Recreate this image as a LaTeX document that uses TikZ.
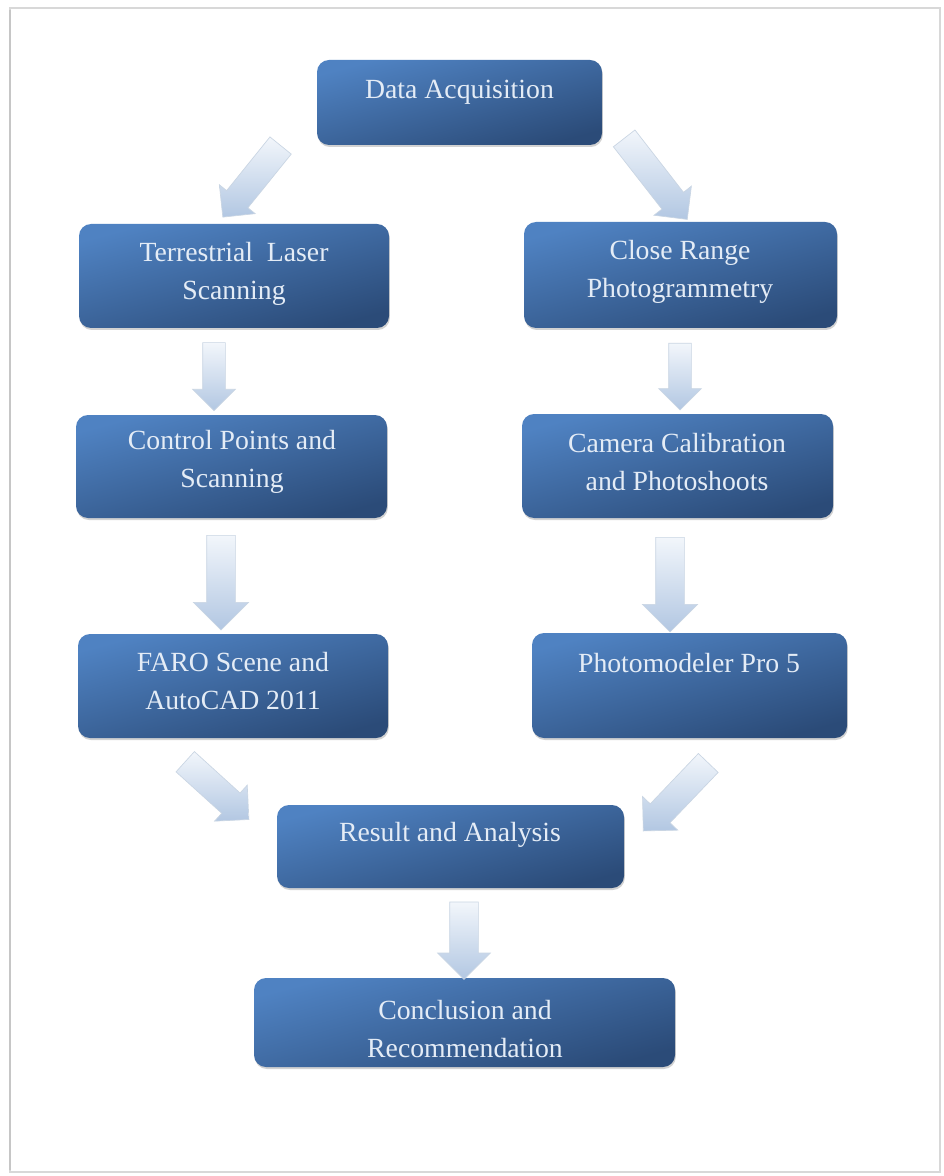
\documentclass[tikz,border=0pt]{standalone}
\usepackage{fontspec}
\setmainfont{Liberation Serif}
\usetikzlibrary{shapes.arrows,shadows}
\definecolor{boxtop}{HTML}{4F82C2}
\definecolor{boxbot}{HTML}{2B4B78}
\definecolor{boxtext}{HTML}{E4ECF6}
\definecolor{arrlight}{HTML}{F2F6FB}
\definecolor{arrdark}{HTML}{B2C7E2}
\definecolor{arredge}{HTML}{C9D5E3}
\definecolor{framecol}{HTML}{D8D8D8}
\tikzset{
  box/.style={rectangle, rounded corners=9pt, draw=none,
    top color=boxtop, bottom color=boxbot, shading angle=15,
    drop shadow={opacity=0.35, shadow xshift=0.6pt, shadow yshift=-1.5pt},
    inner sep=0pt},
  txt/.style={text=boxtext, align=center, font=\fontsize{20.8}{28.5}\selectfont, inner sep=0pt},
  barrow/.style={single arrow, draw=arredge, line width=0.5pt,
    left color=arrlight, right color=arrdark, shading angle=0,
    single arrow head indent=0pt, inner xsep=0pt, minimum width=0pt},
}
\begin{document}
\begin{tikzpicture}[x=0.75pt,y=-0.75pt]
\useasboundingbox (0,0) rectangle (944,1176);
\fill[white] (0,0) rectangle (944,1176);
\draw[framecol, line width=1.2pt] (10,8) rectangle (940,1172);
\draw[framecol!80!gray, line width=1.5pt] (10,10) -- (10,1170);

% boxes
\node[box, minimum width=213.75pt, minimum height=63.75pt] (da) at (459.5,102.5) {};
\node[box, minimum width=232.5pt, minimum height=78pt] (tls) at (234,276) {};
\node[box, minimum width=234.75pt, minimum height=79.5pt] (crp) at (680.5,275) {};
\node[box, minimum width=233.25pt, minimum height=77.25pt] (cps) at (231.5,466.5) {};
\node[box, minimum width=233.25pt, minimum height=78pt] (cam) at (677.5,466) {};
\node[box, minimum width=232.5pt, minimum height=78pt] (faro) at (233,686) {};
\node[box, minimum width=236.25pt, minimum height=78.75pt] (pm) at (689.5,685.5) {};
\node[box, minimum width=260.25pt, minimum height=62.25pt] (ra) at (450.5,846.5) {};
\node[box, minimum width=315.75pt, minimum height=66.75pt] (cr) at (464.5,1022.5) {};

% texts
\node[txt] (da-t) at (459.5,92) {Data Acquisition};
\node[txt] (tls-t) at (234,274) {Terrestrial\ \ Laser\\Scanning};
\node[txt] (crp-t) at (680,272) {Close Range\\Photogrammetry};
\node[txt] (cps-t) at (232,462) {Control Points and\\Scanning};
\node[txt] (cam-t) at (677,462) {Camera Calibration\\and Photoshoots};
\node[txt] (faro-t) at (233,681.5) {FARO Scene and\\AutoCAD 2011};
\node[txt] (pm-t) at (689,663) {Photomodeler Pro 5};
\node[txt] (ra-t) at (450,835) {Result and Analysis};
\node[txt] (cr-t) at (465,1029) {Conclusion and\\Recommendation};

% block arrows
\node[barrow, rotate=-128.9, minimum height=69pt, inner ysep=10pt, single arrow head extend=7pt] (a1) at (256,176) {};
\node[barrow, rotate=-52.1, minimum height=77pt, inner ysep=10pt, single arrow head extend=7.5pt] (a2) at (651.5,173.5) {};
\node[barrow, rotate=-90, minimum height=51pt, inner ysep=8.25pt, single arrow head extend=7.5pt] (a3) at (214,371) {};
\node[barrow, rotate=-90, minimum height=50pt, inner ysep=8.25pt, single arrow head extend=7.5pt] (a4) at (680,371) {};
\node[barrow, rotate=-90, minimum height=71pt, inner ysep=10.5pt, single arrow head extend=10pt] (a5) at (221,575.5) {};
\node[barrow, rotate=-90, minimum height=71pt, inner ysep=10.5pt, single arrow head extend=10pt] (a6) at (670,577.5) {};
\node[barrow, rotate=-42.2, minimum height=64.5pt, inner ysep=10pt, single arrow head extend=8pt] (a7) at (212,786) {};
\node[barrow, rotate=-133.7, minimum height=70.5pt, inner ysep=10pt, single arrow head extend=8pt] (a8) at (680.5,792) {};
\node[barrow, rotate=-90, minimum height=58pt, inner ysep=10.5pt, single arrow head extend=9pt] (a9) at (464,933.5) {};
\end{tikzpicture}
\end{document}
